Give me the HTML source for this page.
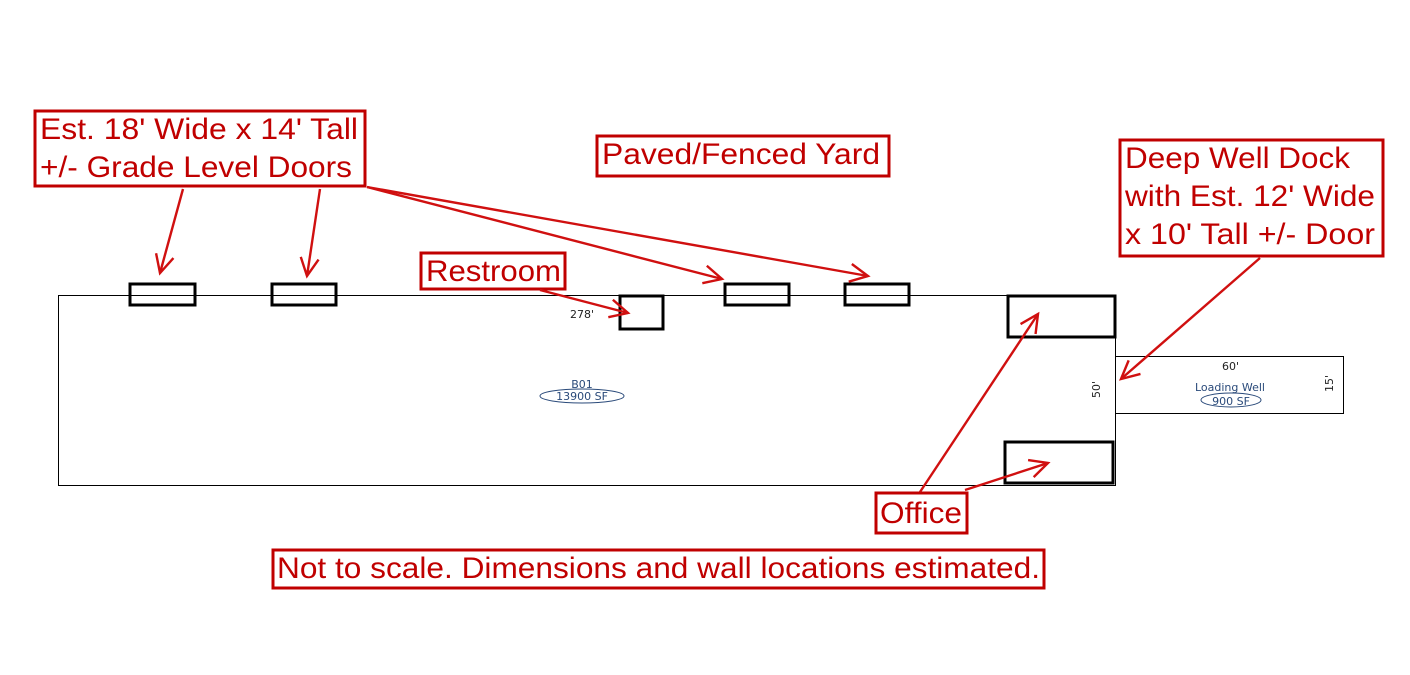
<!DOCTYPE html>
<html><head><style>
body{margin:0;background:#fff}
svg{display:block}
.lbl{font-family:"Liberation Sans",sans-serif;fill:#c00000}
</style></head><body>
<svg width="1410" height="675" viewBox="0 0 1410 675">
<defs>
<marker id="a" markerWidth="22" markerHeight="22" refX="19" refY="11" orient="auto" markerUnits="userSpaceOnUse">
<path d="M1,2 L19,11 L1,20" fill="none" stroke="#d01010" stroke-width="2.4"/>
</marker>
</defs>
<g fill="none" stroke="#000">
<rect x="58.5" y="295.5" width="1057" height="190" stroke-width="1"/>
<rect x="1115.5" y="356.5" width="228" height="57" stroke-width="1"/>
<g stroke-width="3">
<rect x="130" y="284" width="65" height="21"/>
<rect x="272" y="284" width="64" height="21"/>
<rect x="620" y="296" width="43" height="33"/>
<rect x="725" y="284" width="64" height="21"/>
<rect x="845" y="284" width="64" height="21"/>
<rect x="1008" y="296" width="107" height="41"/>
<rect x="1005" y="442" width="108" height="41"/>
</g>
</g>
<g font-family="'DejaVu Sans',sans-serif" font-size="11" fill="#222">
<text x="570" y="318">278'</text>
<text x="1222" y="370">60'</text>
<text transform="translate(1100,398) rotate(-90)">50'</text>
<text transform="translate(1333,392) rotate(-90)">15'</text>
</g>
<g font-family="'DejaVu Sans',sans-serif" font-size="11" fill="#2a4a7a">
<text x="582" y="388" text-anchor="middle">B01</text>
<ellipse cx="582" cy="396" rx="42" ry="7" fill="none" stroke="#2a4a7a"/>
<text x="582" y="400" text-anchor="middle">13900 SF</text>
<text x="1230" y="391" text-anchor="middle">Loading Well</text>
<ellipse cx="1231" cy="400" rx="30" ry="7" fill="none" stroke="#2a4a7a"/>
<text x="1231" y="405" text-anchor="middle">900 SF</text>
</g>
<g fill="none" stroke="#c00000" stroke-width="3">
<rect x="35" y="111" width="330" height="75"/>
<rect x="597" y="136" width="292" height="40"/>
<rect x="421" y="253" width="144" height="36"/>
<rect x="1120" y="140" width="263" height="116"/>
<rect x="876" y="493" width="91" height="40"/>
<rect x="273" y="550" width="771" height="38"/>
</g>
<g class="lbl" font-size="30" lengthAdjust="spacingAndGlyphs">
<text x="40" y="139" textLength="318" lengthAdjust="spacingAndGlyphs">Est. 18' Wide x 14' Tall</text>
<text x="40" y="177" textLength="312" lengthAdjust="spacingAndGlyphs">+/- Grade Level Doors</text>
<text x="602" y="164" textLength="278" lengthAdjust="spacingAndGlyphs">Paved/Fenced Yard</text>
<text x="426" y="281" textLength="135" lengthAdjust="spacingAndGlyphs">Restroom</text>
<text x="1125" y="168" textLength="225" lengthAdjust="spacingAndGlyphs">Deep Well Dock</text>
<text x="1125" y="206" textLength="250" lengthAdjust="spacingAndGlyphs">with Est. 12' Wide</text>
<text x="1125" y="244" textLength="250" lengthAdjust="spacingAndGlyphs">x 10' Tall +/- Door</text>
<text x="880" y="523" textLength="82" lengthAdjust="spacingAndGlyphs">Office</text>
<text x="277" y="578" textLength="763" lengthAdjust="spacingAndGlyphs">Not to scale. Dimensions and wall locations estimated.</text>
</g>
<g stroke="#d01010" stroke-width="2.4" marker-end="url(#a)">
<line x1="183" y1="189" x2="160" y2="273"/>
<line x1="320" y1="189" x2="307" y2="276"/>
<line x1="367" y1="187" x2="722" y2="279"/>
<line x1="367" y1="187" x2="868" y2="276"/>
<line x1="540" y1="290" x2="628" y2="313"/>
<line x1="1260" y1="258" x2="1121" y2="379"/>
<line x1="920" y1="492" x2="1038" y2="314"/>
<line x1="965" y1="490" x2="1048" y2="463"/>
</g>
</svg>
</body></html>
